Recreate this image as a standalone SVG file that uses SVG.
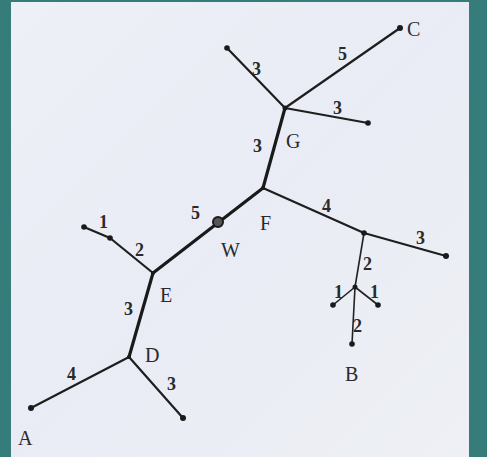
<svg xmlns="http://www.w3.org/2000/svg" width="487" height="457" viewBox="0 0 487 457">
<defs>
<linearGradient id="bg" x1="0" y1="0" x2="1" y2="1">
<stop offset="0" stop-color="#eef0f7"/>
<stop offset="0.5" stop-color="#e9ecf5"/>
<stop offset="1" stop-color="#eef0f4"/>
</linearGradient>
</defs>
<style>
.thick{stroke:#1a1a1a;stroke-width:3.2;fill:none;stroke-linecap:round}
.mid{stroke:#1e1e1e;stroke-width:2.2;fill:none;stroke-linecap:round}
.thin{stroke:#222;stroke-width:1.6;fill:none;stroke-linecap:round}
.dot{fill:#1a1a1a}
text{font-family:"Liberation Serif","DejaVu Serif",serif;fill:#2a2a2a}
.lbl{font-size:20px}
.num{font-size:18px;font-weight:bold}
</style>
<rect x="0" y="0" width="487" height="457" fill="#367c7a"/>
<rect x="11" y="2" width="458" height="455" fill="url(#bg)"/>
<g id="connectors">
<line class="thick" x1="129" y1="357" x2="153" y2="273"/>
<line class="thick" x1="153" y1="273" x2="263" y2="188"/>
<line class="thick" x1="263" y1="188" x2="285" y2="108"/>
<line class="mid" x1="285" y1="108" x2="400" y2="28"/>
<line class="mid" x1="285" y1="108" x2="227" y2="48"/>
<line class="mid" x1="285" y1="108" x2="368" y2="123"/>
<line class="mid" x1="263" y1="188" x2="364" y2="233"/>
<line class="mid" x1="364" y1="233" x2="446" y2="256"/>
<line class="thin" x1="364" y1="233" x2="355" y2="287"/>
<line class="thin" x1="355" y1="287" x2="333" y2="305"/>
<line class="thin" x1="355" y1="287" x2="378" y2="305"/>
<line class="thin" x1="355" y1="287" x2="352" y2="344"/>
<line class="mid" x1="153" y1="273" x2="110" y2="238"/>
<line class="mid" x1="110" y1="238" x2="84" y2="227"/>
<line class="mid" x1="129" y1="357" x2="31" y2="408"/>
<line class="mid" x1="129" y1="357" x2="183" y2="418"/>
</g>
<g id="C"><circle class="dot" cx="400" cy="28" r="3"/><text class="lbl" x="407" y="36">C</text></g>
<g id="n1"><circle class="dot" cx="227" cy="48" r="2.8"/></g>
<g id="G"><circle class="dot" cx="285" cy="108" r="2.5"/><text class="lbl" x="286" y="148">G</text></g>
<g id="n2"><circle class="dot" cx="368" cy="123" r="2.8"/></g>
<g id="F"><circle class="dot" cx="263" cy="188" r="2"/><text class="lbl" x="260" y="230">F</text></g>
<g id="W"><circle cx="218" cy="222" r="5" fill="#555" stroke="#1a1a1a" stroke-width="2"/><text class="lbl" x="221" y="257">W</text></g>
<g id="E"><circle class="dot" cx="153" cy="273" r="2"/><text class="lbl" x="160" y="302">E</text></g>
<g id="n3"><circle class="dot" cx="110" cy="238" r="2.8"/></g>
<g id="n4"><circle class="dot" cx="84" cy="227" r="2.8"/></g>
<g id="n5"><circle class="dot" cx="364" cy="233" r="2.8"/></g>
<g id="n6"><circle class="dot" cx="446" cy="256" r="3"/></g>
<g id="n7"><circle class="dot" cx="355" cy="287" r="2.5"/></g>
<g id="n8"><circle class="dot" cx="333" cy="305" r="2.8"/></g>
<g id="n9"><circle class="dot" cx="378" cy="305" r="2.8"/></g>
<g id="B"><circle class="dot" cx="352" cy="344" r="2.8"/><text class="lbl" x="345" y="381">B</text></g>
<g id="D"><circle class="dot" cx="129" cy="357" r="2"/><text class="lbl" x="145" y="362">D</text></g>
<g id="A"><circle class="dot" cx="31" cy="408" r="3"/><text class="lbl" x="18" y="445">A</text></g>
<g id="n10"><circle class="dot" cx="183" cy="418" r="3"/></g>
<g id="weights">
<text class="num" x="252" y="75">3</text>
<text class="num" x="338" y="60">5</text>
<text class="num" x="333" y="114">3</text>
<text class="num" x="253" y="152">3</text>
<text class="num" x="191" y="219">5</text>
<text class="num" x="322" y="212">4</text>
<text class="num" x="416" y="244">3</text>
<text class="num" x="99" y="228">1</text>
<text class="num" x="135" y="256">2</text>
<text class="num" x="363" y="270">2</text>
<text class="num" x="334" y="298">1</text>
<text class="num" x="370" y="298">1</text>
<text class="num" x="353" y="332">2</text>
<text class="num" x="124" y="315">3</text>
<text class="num" x="67" y="380">4</text>
<text class="num" x="167" y="390">3</text>
</g>
</svg>
